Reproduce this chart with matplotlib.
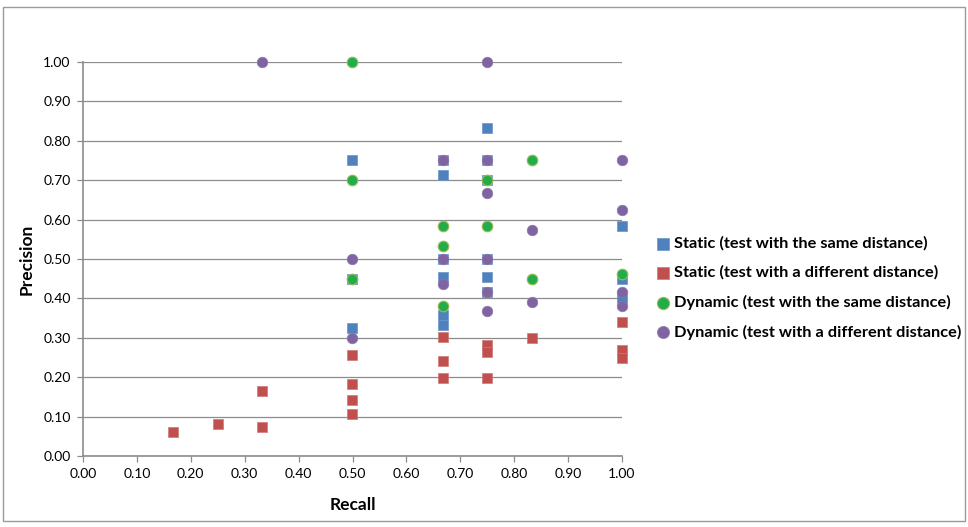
import matplotlib
matplotlib.use("Agg")
import matplotlib.pyplot as plt
from matplotlib.patches import Rectangle
from matplotlib.ticker import MultipleLocator, FormatStrFormatter

plt.rcParams['font.family'] = ['Lato', 'DejaVu Sans']

# Static (test with the same distance)
static_same_x = [0.5, 0.5, 0.5,
                 0.667, 0.667, 0.667, 0.667, 0.667, 0.667,
                 0.75, 0.75, 0.75, 0.75, 0.75, 0.75,
                 1.0, 1.0, 1.0]
static_same_y = [0.75, 0.45, 0.325,
                 0.75, 0.714, 0.50, 0.455, 0.357, 0.333,
                 0.833, 0.75, 0.70, 0.50, 0.455, 0.417,
                 0.583, 0.45, 0.40]

# Static (test with a different distance)
static_diff_x = [0.167, 0.25, 0.333, 0.333,
                 0.5, 0.5, 0.5, 0.5,
                 0.667, 0.667, 0.667,
                 0.75, 0.75, 0.75,
                 0.833,
                 1.0, 1.0, 1.0]
static_diff_y = [0.061, 0.082, 0.164, 0.074,
                 0.257, 0.182, 0.141, 0.107,
                 0.303, 0.24, 0.198,
                 0.281, 0.265, 0.197,
                 0.30,
                 0.341, 0.268, 0.25]

# Dynamic (test with the same distance)
dyn_same_x = [0.5, 0.5, 0.5,
              0.667, 0.667, 0.667,
              0.75, 0.75,
              0.833, 0.833,
              1.0]
dyn_same_y = [1.0, 0.70, 0.45,
              0.583, 0.533, 0.38,
              0.70, 0.583,
              0.75, 0.45,
              0.462]

# Dynamic (test with a different distance)
dyn_diff_x = [0.333,
              0.5, 0.5,
              0.667, 0.667, 0.667,
              0.75, 0.75, 0.75, 0.75, 0.75, 0.75,
              0.833, 0.833,
              1.0, 1.0, 1.0, 1.0]
dyn_diff_y = [1.0,
              0.50, 0.30,
              0.75, 0.50, 0.437,
              1.0, 0.75, 0.667, 0.50, 0.417, 0.367,
              0.574, 0.392,
              0.75, 0.625, 0.417, 0.38]

labels = ["Static (test with the same distance)",
          "Static (test with a different distance)",
          "Dynamic (test with the same distance)",
          "Dynamic (test with a different distance)"]

fig = plt.figure(figsize=(9.68, 5.27), dpi=100)
ax = fig.add_axes([83 / 968, 71 / 527, 539 / 968, 394 / 527])

ax.scatter(static_same_x, static_same_y, marker='s', s=52, color='#4F81BD',
           edgecolors='#6A95CC', linewidths=0.5, label=labels[0], zorder=3, clip_on=False)
ax.scatter(static_diff_x, static_diff_y, marker='s', s=52, color='#C0504D',
           edgecolors='#D07A78', linewidths=0.5, label=labels[1], zorder=3, clip_on=False)
ax.scatter(dyn_same_x, dyn_same_y, marker='o', s=58, color='#22AD48',
           edgecolors='#9BBB59', linewidths=0.8, label=labels[2], zorder=3, clip_on=False)
ax.scatter(dyn_diff_x, dyn_diff_y, marker='o', s=58, color='#8064A2',
           edgecolors='#8F78AE', linewidths=0.5, label=labels[3], zorder=3, clip_on=False)

ax.set_xlim(0, 1)
ax.set_ylim(0, 1)
ax.xaxis.set_major_locator(MultipleLocator(0.1))
ax.yaxis.set_major_locator(MultipleLocator(0.1))
ax.xaxis.set_major_formatter(FormatStrFormatter('%.2f'))
ax.yaxis.set_major_formatter(FormatStrFormatter('%.2f'))
ax.grid(axis='y', color='#8C8C8C', linewidth=0.9, zorder=0)
ax.set_axisbelow(True)

for side in ['top', 'right']:
    ax.spines[side].set_visible(False)
for side in ['left', 'bottom']:
    ax.spines[side].set_color('#8C8C8C')
    ax.spines[side].set_linewidth(1.2)
ax.tick_params(axis='both', direction='out', length=4, width=0.9, color='#8C8C8C',
               labelsize=10, pad=5)

ax.set_xlabel("Recall", fontsize=12.5, fontweight='bold', labelpad=12)
ax.set_ylabel("Precision", fontsize=12.5, fontweight='bold', labelpad=6)

fig.legend(loc='center left', bbox_to_anchor=(643 / 968, (527 - 288) / 527),
           frameon=False, prop={'weight': 'bold', 'size': 11.8},
           handlelength=0.7, handletextpad=0.3, labelspacing=0.9,
           markerscale=1.15, scatterpoints=1)

# chart area border
fig.patches.append(Rectangle((3 / 968, 6 / 527), 962 / 968, 514 / 527,
                             transform=fig.transFigure, fill=False,
                             edgecolor='#9A9A9A', linewidth=1.0))

fig.savefig("out.png", dpi=100)
